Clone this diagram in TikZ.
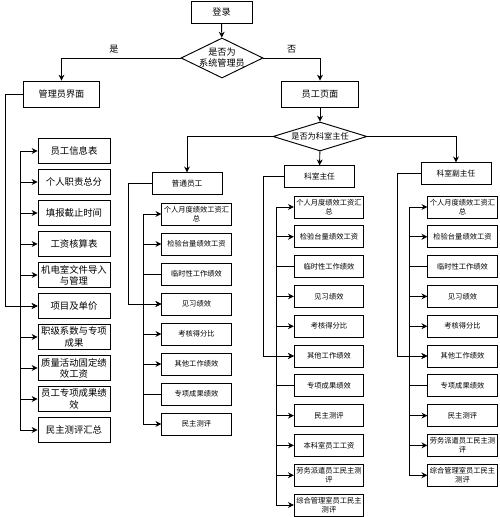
\documentclass[tikz,border=0pt]{standalone}
\usepackage{fontspec}
\newfontfamily\cjk{Noto Sans CJK SC}
\usetikzlibrary{arrows.meta, shapes.geometric}

\begin{document}
\begin{tikzpicture}[
    % Global options: pixel grid, line width, font
    x=0.3mm, y=-0.3mm,
    line width=0.8pt,
    font=\cjk\fontsize{7.8}{9.4}\selectfont,
    arrow/.style={-{Stealth[length=5pt, width=5pt]}},
    start/.style={draw, minimum width=18.3mm, minimum height=6.6mm},
    decision/.style={draw, diamond, inner sep=0pt},
    page/.style={draw, minimum width=23mm, minimum height=7.8mm},
    role/.style={draw, minimum width=21mm, minimum height=6.4mm,
      font=\cjk\fontsize{6.6}{8}\selectfont},
    itemA/.style={draw, align=center, inner sep=0.5pt,
      minimum width=21.6mm, minimum height=7.5mm,
      font=\cjk\fontsize{8}{9.5}\selectfont},
    itemB/.style={draw, align=center, inner sep=0.5pt,
      minimum width=20.8mm, minimum height=6.6mm,
      font=\cjk\fontsize{6.2}{7.3}\selectfont},
  ]
    \useasboundingbox (0,0) rectangle (500,517);

    % --- Login and first decision ---
    \node[start] (login) at (221.5,12) {登录};
    \node[decision, minimum width=24.6mm, minimum height=12mm] (isadmin) at (222,58) {};
    \node[align=center, inner sep=0pt] (isadmintxt) at (isadmin) {是否为\\系统管理员};
    \node[page] (admin) at (61.5,94) {管理员界面};
    \node[page] (staff) at (320,94) {员工页面};

    \draw[arrow] (login) -- (isadmin);
    \draw[arrow] (isadmin.west) -| (admin.north) node[pos=0.28, above] {是};
    \draw[arrow] (isadmin.east) -| (staff.north) node[pos=0.25, above] {否};

    % --- Second decision and roles ---
    \node[decision, minimum width=28.2mm, minimum height=8.7mm] (ischief) at (320,136.5) {};
    \node[inner sep=0pt, font=\cjk\fontsize{7}{8}\selectfont] (ischieftxt) at (ischief) {是否为科室主任};
    \node[role] (ordinary) at (187,183.5) {普通员工};
    \node[role] (chief) at (319.5,176.5) {科室主任};
    \node[role] (deputy) at (456,173.5) {科室副主任};

    \draw[arrow] (staff) -- (ischief);
    \draw[arrow] (ischief.west) -| (ordinary.north);
    \draw[arrow] (ischief) -- (chief);
    \draw[arrow] (ischief.east) -| (deputy.north);

    % --- Admin items ---
    \foreach \name [count=\i] in {员工信息表, 个人职责总分, 填报截止时间, 工资核算表,
        {机电室文件导入\\与管理}, 项目及单价, {职级系数与专项\\成果},
        {质量活动固定绩\\效工资}, {员工专项成果绩\\效}, 民主测评汇总}
      \node[itemA] (a\i) at (74,{151+31*(\i-1)}) {\name};

    \coordinate (outA) at (5,0);
    \coordinate (busA) at (20,0);
    \draw[arrow] (admin.west) -| (outA |- a6) -- (a6.west);
    \draw (busA |- a1) -- (busA |- a10);
    \foreach \i in {1,...,10}
      \draw[arrow] (busA |- a\i) -- (a\i.west);

    % --- Ordinary staff items ---
    \foreach \name [count=\i] in {{个人月度绩效工资汇\\总}, 检验台量绩效工资, 临时性工作绩效,
        见习绩效, 考核得分比, 其他工作绩效, 专项成果绩效, 民主测评}
      \node[itemB] (b\i) at (196.5,{214+30*(\i-1)}) {\name};

    \coordinate (outB) at (128,0);
    \coordinate (busB) at (143,0);
    \draw[arrow] (ordinary.west) -| (outB |- b4) -- (b4.west);
    \draw (busB |- b1) -- (busB |- b8);
    \foreach \i in {1,2,4,5,6,8}
      \draw[arrow] (busB |- b\i) -- (b\i.west);
    \foreach \i in {3,7}
      \draw (busB |- b\i) -- (b\i.west);

    % --- Chief items ---
    \foreach \name [count=\i] in {{个人月度绩效工资汇\\总}, 检验台量绩效工资, 临时性工作绩效,
        见习绩效, 考核得分比, 其他工作绩效, 专项成果绩效, 民主测评, 本科室员工工资,
        {劳务派遣员工民主测\\评}, {综合管理室员工民主\\测评}}
      \node[itemB] (c\i) at (329,{207+29.8*(\i-1)}) {\name};

    \coordinate (outC) at (263,0);
    \coordinate (busC) at (276,0);
    \draw[arrow] (chief.west) -| (outC |- c6) -- (c6.west);
    \draw (busC |- c1) -- (busC |- c11);
    \foreach \i in {1,2,4,5,6,8,9,10,11}
      \draw[arrow] (busC |- c\i) -- (c\i.west);
    \foreach \i in {3,7}
      \draw (busC |- c\i) -- (c\i.west);

    % --- Deputy chief items ---
    \foreach \name [count=\i] in {{个人月度绩效工资汇\\总}, 检验台量绩效工资, 临时性工作绩效,
        见习绩效, 考核得分比, 其他工作绩效, 专项成果绩效, 民主测评,
        {劳务派遣员工民主测\\评}, {综合管理室员工民主\\测评}}
      \node[itemB] (d\i) at (462.5,{207+29.8*(\i-1)}) {\name};

    \coordinate (outD) at (397,0);
    \coordinate (busD) at (409,0);
    \draw[arrow] (deputy.west) -| (outD |- d6) -- (d6.west);
    \draw (busD |- d1) -- (busD |- d10);
    \foreach \i in {1,2,4,5,6,8,9,10}
      \draw[arrow] (busD |- d\i) -- (d\i.west);
    \foreach \i in {3,7}
      \draw (busD |- d\i) -- (d\i.west);
  \end{tikzpicture}
\end{document}
